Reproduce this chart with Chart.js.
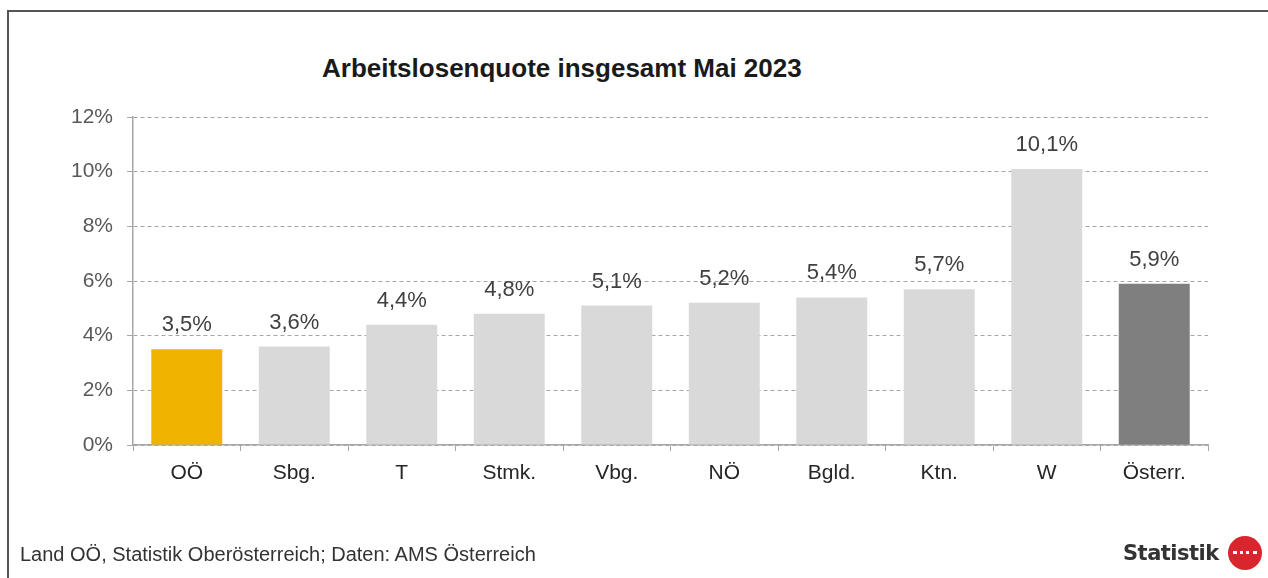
<!DOCTYPE html>
<html lang="de">
<head>
  <meta charset="UTF-8">
  <title>Arbeitslosenquote insgesamt Mai 2023</title>
  <script src="https://cdn.jsdelivr.net/npm/chart.js"></script>
  <style>
    body {
      margin: 0;
      background: #fff;
      font-family: "Liberation Sans", Arial, sans-serif;
    }
    #wrap {
      position: relative;
      width: 1268px;
      height: 578px;
      overflow: hidden;
    }
    #rahmen {
      position: absolute;
      left: 7px;
      top: 10px;
      width: 1300px;
      height: 600px;
      border-top: 2px solid #555;
      border-left: 2px solid #555;
    }
    #titel {
      position: absolute;
      left: 322px;
      top: 53px;
      font-size: 26px;
      font-weight: bold;
      color: #1a1a1a;
    }
    #quelle {
      position: absolute;
      left: 20px;
      top: 543px;
      font-size: 20px;
      color: #333;
    }
    #logo {
      position: absolute;
      left: 1123px;
      top: 541px;
      font-size: 21px;
      font-weight: bold;
      color: #333;
      font-family: "DejaVu Sans", sans-serif;
      letter-spacing: -0.5px;
    }
    #kreis {
      position: absolute;
      left: 1228px;
      top: 536px;
      width: 34px;
      height: 34px;
      border-radius: 50%;
      background: #d9262e;
    }
    #kreis::after {
      content: "";
      position: absolute;
      left: 5px;
      top: 15px;
      width: 24px;
      border-top: 3px dotted #fff;
    }
    #chart {
      position: absolute;
      left: 0;
      top: 0;
    }
  </style>
</head>
<body>
<div id="wrap">
  <div id="rahmen"></div>
  <div id="titel">Arbeitslosenquote insgesamt Mai 2023</div>
  <canvas id="chart" width="1268" height="578"></canvas>
  <div id="quelle">Land OÖ, Statistik Oberösterreich; Daten: AMS Österreich</div>
  <div id="logo">Statistik</div>
  <div id="kreis"></div>
</div>

<script>
const regionen = ['OÖ', 'Sbg.', 'T', 'Stmk.', 'Vbg.', 'NÖ', 'Bgld.', 'Ktn.', 'W', 'Österr.'];
const quoten = [3.5, 3.6, 4.4, 4.8, 5.1, 5.2, 5.4, 5.7, 10.1, 5.9];
const farben = ['#F0B400', '#D9D9D9', '#D9D9D9', '#D9D9D9', '#D9D9D9', '#D9D9D9', '#D9D9D9', '#D9D9D9', '#D9D9D9', '#7F7F7F'];
const yTicks = [0, 2, 4, 6, 8, 10, 12];

const schrift = '"Liberation Sans", Arial, sans-serif';

// Werte über den Balken
const wertBeschriftung = {
  id: 'wertBeschriftung',
  afterDatasetsDraw(chart) {
    const ctx = chart.ctx;
    const meta = chart.getDatasetMeta(0);
    ctx.save();
    ctx.font = '22px ' + schrift;
    ctx.fillStyle = '#404040';
    ctx.textAlign = 'center';
    ctx.textBaseline = 'middle';
    meta.data.forEach((bar, i) => {
      const txt = quoten[i].toFixed(1).replace('.', ',') + '%';
      ctx.fillText(txt, bar.x, bar.y - 24);
    });
    ctx.restore();
  }
};

new Chart(document.getElementById('chart'), {
  type: 'bar',
  data: {
    labels: regionen,
    datasets: [{
      data: quoten,
      backgroundColor: farben,
      borderWidth: 0,
      categoryPercentage: 1,
      barPercentage: 0.66
    }]
  },
  options: {
    responsive: false,
    animation: false,
    layout: { padding: { left: 60, right: 60, top: 117, bottom: 93 } },
    plugins: {
      legend: { display: false },
      tooltip: { enabled: false }
    },
    scales: {
      x: {
        afterFit: s => { s.height = 40; },
        grid: {
          offset: true,
          drawOnChartArea: false,
          drawTicks: true,
          tickLength: 6,
          color: '#A6A6A6'
        },
        border: { color: '#A6A6A6', width: 1.5 },
        ticks: {
          color: '#262626',
          padding: 10,
          font: { size: 21, family: schrift }
        }
      },
      y: {
        min: 0,
        max: 12,
        afterFit: s => { s.width = 73; },
        afterBuildTicks: s => { s.ticks = yTicks.map(v => ({ value: v })); },
        grid: {
          color: '#A6A6A6',
          tickLength: 6,
          tickBorderDash: [],
          lineWidth: 1
        },
        border: { color: '#A6A6A6', width: 1.5, dash: [4, 3] },
        ticks: {
          color: '#595959',
          padding: 14,
          font: { size: 21, family: schrift },
          callback: v => v + '%'
        }
      }
    }
  },
  plugins: [wertBeschriftung]
});
</script>
</body>
</html>
